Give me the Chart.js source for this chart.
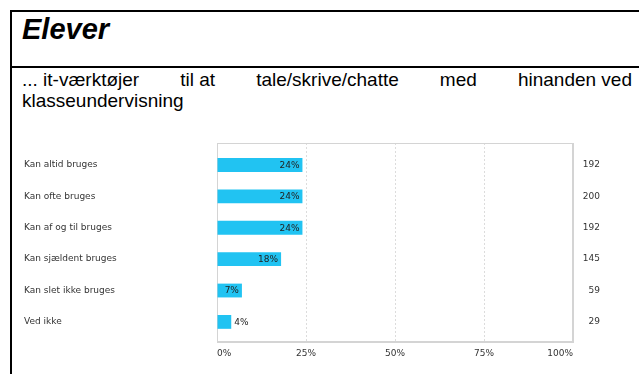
<!DOCTYPE html>
<html lang="da">
<head>
<meta charset="utf-8">
<script src="https://cdn.jsdelivr.net/npm/chart.js@4"></script>
<style>
  html, body { margin: 0; padding: 0; background: #fff; }
  #side { position: relative; width: 639px; height: 374px; overflow: hidden; }
  .streg { position: absolute; background: #000; }
  #titel {
    position: absolute; left: 22px; top: 15px;
    font: italic bold 29px "Liberation Sans", Arial, sans-serif;
    line-height: 29px; color: #000;
  }
  #tekst {
    position: absolute; left: 22px; top: 69px; width: 610px;
    font: 19px "Liberation Sans", Arial, sans-serif;
    line-height: 21px; text-align: justify; color: #000;
  }
  #tekst span { display: inline-block; }
  #grafBoks { position: absolute; left: 0; top: 130px; width: 639px; height: 244px; }
</style>
</head>
<body>
<div id="side">
  <div class="streg" style="left:10px; top:10px; width:629px; height:2px;"></div>
  <div class="streg" style="left:10px; top:66px; width:629px; height:2px;"></div>
  <div class="streg" style="left:10px; top:10px; width:2px; height:364px;"></div>
  <div id="titel">Elever</div>
  <div id="tekst"><span>... it-værktøjer</span> <span>til at</span> tale/skrive/chatte med <span>hinanden ved</span> klasseundervisning</div>
  <div id="grafBoks"><canvas id="graf"></canvas></div>
</div>
<script>
// svarkategorier, procenter og antal svar
const kategorier = ['Kan altid bruges', 'Kan ofte bruges', 'Kan af og til bruges', 'Kan sjældent bruges', 'Kan slet ikke bruges', 'Ved ikke'];
const procenter = [24, 24, 24, 18, 7, 4];
const antal = [192, 200, 192, 145, 59, 29];
const aksePct = [0, 25, 50, 75, 100];

Chart.defaults.font.family = '"DejaVu Sans", Verdana, sans-serif';
Chart.defaults.font.size = 9;
Chart.defaults.color = '#333';

// ramme rundt om plotområdet
const ramme = {
    id: 'ramme',
    beforeDatasetsDraw(chart) {
        const a = chart.chartArea;
        const ctx = chart.ctx;
        ctx.save();
        ctx.strokeStyle = '#d4d4d4';
        ctx.lineWidth = 1;
        ctx.strokeRect(a.left + 0.5, a.top + 0.5, a.right - a.left - 1, a.bottom - a.top - 1);
        ctx.restore();
    }
};

// procent-tekst inde i (eller lige efter) hver bjælke
const procentTekst = {
    id: 'procentTekst',
    afterDatasetsDraw(chart) {
        const ctx = chart.ctx;
        const meta = chart.getDatasetMeta(0);
        ctx.save();
        ctx.font = '9px "DejaVu Sans", Verdana, sans-serif';
        ctx.fillStyle = '#222';
        ctx.textBaseline = 'middle';
        meta.data.forEach((bar, i) => {
            const txt = procenter[i] + '%';
            const w = ctx.measureText(txt).width;
            if (bar.x - bar.base > w + 6) {
                ctx.textAlign = 'right';
                ctx.fillText(txt, bar.x - 3, bar.y + 0.5);
            } else {
                ctx.textAlign = 'left';
                ctx.fillText(txt, bar.x + 3, bar.y + 0.5);
            }
        });
        ctx.restore();
    }
};

const graf = new Chart(document.getElementById('graf'), {
    type: 'bar',
    data: {
        datasets: [{
            data: procenter.map((p, i) => ({ x: p, y: i })),
            backgroundColor: '#21c3f2',
            borderWidth: 0,
            barPercentage: 0.44,
            categoryPercentage: 1
        }]
    },
    options: {
        indexAxis: 'y',
        responsive: true,
        maintainAspectRatio: false,
        animation: false,
        layout: { padding: { left: 24, right: 39, top: 13, bottom: 0 } },
        plugins: {
            legend: { display: false },
            tooltip: { enabled: false }
        },
        scales: {
            x: {
                type: 'linear',
                min: 0,
                max: 100,
                afterBuildTicks: s => { s.ticks = aksePct.map(v => ({ value: v })); },
                afterFit: s => { s.height = 32; },
                ticks: {
                    align: 'inner',
                    padding: 6,
                    callback: v => v + '%'
                },
                grid: {
                    color: '#dcdcdc',
                    drawTicks: false
                },
                border: { color: '#d4d4d4', dash: [2, 2] }
            },
            y: {
                type: 'linear',
                reverse: true,
                offset: false,
                min: -0.7,
                max: 5.64,
                afterBuildTicks: s => { s.ticks = kategorier.map((k, i) => ({ value: i })); },
                afterFit: s => { s.width = 193; },
                ticks: {
                    crossAlign: 'far',
                    padding: 0,
                    callback: v => kategorier[v]
                },
                grid: { display: false, offset: false },
                border: { color: '#d4d4d4' }
            },
            antal: {
                type: 'linear',
                position: 'right',
                reverse: true,
                offset: false,
                min: -0.7,
                max: 5.64,
                afterBuildTicks: s => { s.ticks = antal.map((n, i) => ({ value: i })); },
                afterFit: s => { s.width = 27; },
                ticks: {
                    crossAlign: 'far',
                    padding: 0,
                    callback: v => String(antal[v])
                },
                grid: { display: false },
                border: { color: '#d4d4d4' }
            }
        }
    },
    plugins: [ramme, procentTekst]
});
</script>
</body>
</html>
